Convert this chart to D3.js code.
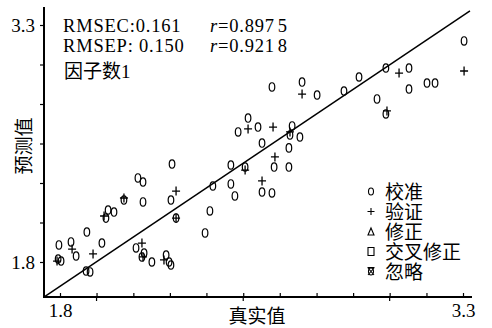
<!DOCTYPE html>
<html>
<head>
<meta charset="utf-8">
<script src="https://cdn.jsdelivr.net/npm/d3@7"></script>
<style>
  html, body { margin: 0; padding: 0; background: #fff; }
  svg { display: block; }
</style>
</head>
<body>
<div id="chart"></div>
<script>
// calibration set: 真实值 / 预测值
var calibX = [1.796, 1.793, 1.804, 1.841, 1.860, 1.900, 1.897, 1.912, 1.956, 1.971, 1.979, 2.001, 2.038, 2.090, 2.109, 2.109, 2.083, 2.113, 2.105, 2.142,
  2.195, 2.206, 2.213, 2.217, 2.213, 2.232, 2.340, 2.358, 2.369, 2.436, 2.436, 2.451, 2.463, 2.500, 2.537, 2.489, 2.552, 2.552, 2.589, 2.701,
  2.757, 2.857, 2.913, 3.013, 3.099, 3.099, 3.166, 3.196, 3.304, 2.980, 3.013, 2.664, 2.656, 2.693, 2.652, 2.597, 2.652, 2.589];
var calibY = [1.908, 1.819, 1.806, 1.927, 1.838, 1.990, 1.743, 1.737, 1.920, 2.078, 2.129, 2.116, 2.192, 2.332, 2.306, 2.180, 1.889, 1.857, 1.832, 1.800,
  1.844, 1.800, 1.781, 2.420, 2.192, 2.078, 1.984, 2.123, 2.281, 2.414, 2.294, 2.218, 2.623, 2.711, 2.654, 2.401, 2.553, 2.243, 2.908, 2.939,
  2.857, 2.882, 2.971, 3.028, 3.028, 2.895, 2.933, 2.933, 3.199, 2.832, 2.737, 2.661, 2.604, 2.591, 2.522, 2.401, 2.401, 2.237];

// validation set
var validX = [1.789, 1.845, 1.923, 1.964, 2.038, 2.105, 2.109, 2.187, 2.232, 2.232, 2.500, 2.489, 2.552, 2.701, 3.062, 3.304, 3.017, 2.593, 2.656, 2.600];
var validY = [1.806, 1.882, 1.851, 2.091, 2.205, 1.920, 1.832, 1.813, 2.249, 2.078, 2.642, 2.382, 2.313, 2.863, 2.996, 3.009, 2.756, 2.654, 2.623, 2.465];

// target line ends
var lineX = [1.74, 3.326];
var lineY = [1.578, 3.389];

// ticks and labels
var xTicks = [1.8, 1.936, 2.073, 2.209, 2.345, 2.482, 2.618, 2.755, 2.891, 3.027, 3.164, 3.3];
var yTicks = [1.8, 2.05, 2.3, 2.55, 2.8, 3.05, 3.3];
var endLabels = ["1.8", "3.3"];
var legendLabels = ["校准", "验证", "修正", "交叉修正", "忽略"];
var statNames = ["RMSEC:0.161", "RMSEP: 0.150"];
var statR = [["0.897", "5"], ["0.921", "8"]];
var factorText = "因子数1";

var width = 492, height = 328;
var frame = {left: 44, right: 472, top: 7, bottom: 297};
var serif = "'Liberation Serif', 'Times New Roman', 'Noto Sans CJK SC', serif";

var svg = d3.select("#chart")
  .append("svg")
  .attr("width", width)
  .attr("height", height)
  .style("background", "#fff");

var x = d3.scaleLinear().domain([1.8, 3.3]).range([60, 463]);
var y = d3.scaleLinear().domain([1.8, 3.3]).range([262, 25]);

// Y axis
var yAxis = svg.append("g")
  .attr("transform", "translate(" + frame.left + ",0)")
  .call(d3.axisLeft(y).tickValues(yTicks).tickSize(4).tickPadding(5)
    .tickFormat(function(d, i) { return i === 0 ? endLabels[0] : (i === yTicks.length - 1 ? endLabels[1] : ""); }));
yAxis.select(".domain").remove();
yAxis.selectAll("line").attr("stroke", "#000").attr("stroke-width", 1.2);
yAxis.selectAll("text").attr("font-family", serif).attr("font-size", 19).attr("fill", "#000");

// X axis
var xAxis = svg.append("g")
  .attr("transform", "translate(0," + frame.bottom + ")")
  .call(d3.axisBottom(x).tickValues(xTicks).tickSize(-4).tickPadding(7)
    .tickFormat(function(d, i) { return i === 0 ? endLabels[0] : (i === xTicks.length - 1 ? endLabels[1] : ""); }));
xAxis.select(".domain").remove();
xAxis.selectAll("line").attr("stroke", "#000").attr("stroke-width", 1.2);
xAxis.selectAll("text").attr("font-family", serif).attr("font-size", 19).attr("fill", "#000");

// a few ticks hang below the axis
xAxis.selectAll(".down")
  .data([xTicks[1], xTicks[5], xTicks[9]])
  .enter()
  .append("line")
  .attr("x1", function(d) { return x(d); })
  .attr("x2", function(d) { return x(d); })
  .attr("y1", 0)
  .attr("y2", 4)
  .attr("stroke", "#000")
  .attr("stroke-width", 1.2);

// frame lines
svg.append("line")
  .attr("x1", frame.left).attr("x2", frame.left)
  .attr("y1", frame.top).attr("y2", frame.bottom + 1)
  .attr("stroke", "#000").attr("stroke-width", 2);
svg.append("line")
  .attr("x1", frame.left - 1).attr("x2", frame.right)
  .attr("y1", frame.bottom).attr("y2", frame.bottom)
  .attr("stroke", "#000").attr("stroke-width", 2.2);

// target line
svg.append("path")
  .datum(d3.zip(lineX, lineY))
  .attr("d", d3.line().x(function(d) { return x(d[0]); }).y(function(d) { return y(d[1]); }))
  .attr("fill", "none")
  .attr("stroke", "#000")
  .attr("stroke-width", 1.5);

// calibration points
svg.selectAll(".calib")
  .data(d3.zip(calibX, calibY))
  .enter()
  .append("ellipse")
  .attr("cx", function(d) { return x(d[0]); })
  .attr("cy", function(d) { return y(d[1]); })
  .attr("rx", 2.8)
  .attr("ry", 4.2)
  .attr("fill", "none")
  .attr("stroke", "#000")
  .attr("stroke-width", 1.2);

// validation points
svg.selectAll(".valid")
  .data(d3.zip(validX, validY))
  .enter()
  .append("path")
  .attr("transform", function(d) { return "translate(" + x(d[0]) + "," + y(d[1]) + ")"; })
  .attr("d", "M-4,0H4M0,-4.5V4.5")
  .attr("fill", "none")
  .attr("stroke", "#000")
  .attr("stroke-width", 1.3);

// statistics text
var stats = svg.append("g").attr("font-family", serif).attr("font-size", 18.5).attr("fill", "#000");
statNames.forEach(function(s, i) {
  var base = 31.5 + i * 20.5;
  stats.append("text").attr("x", 63).attr("y", base).attr("letter-spacing", 0.8).text(s);
  var t = stats.append("text").attr("x", 210).attr("y", base).attr("letter-spacing", 0.8);
  t.append("tspan").attr("font-style", "italic").text("r");
  t.append("tspan").text("=" + statR[i][0]);
  t.append("tspan").attr("dx", 3).text(statR[i][1]);
});
stats.append("text")
  .attr("x", 64).attr("y", 77.5)
  .attr("font-size", 19)
  .text(factorText);

// axis titles
svg.append("text")
  .attr("x", 257).attr("y", 323)
  .attr("text-anchor", "middle")
  .attr("font-family", serif).attr("font-size", 19)
  .text("真实值");
svg.append("text")
  .attr("transform", "translate(31,146) rotate(-90)")
  .attr("text-anchor", "middle")
  .attr("font-family", serif).attr("font-size", 19)
  .text("预测值");

// legend
var legend = svg.append("g").attr("transform", "translate(371,191.5)");
var rows = legend.selectAll("g")
  .data(legendLabels)
  .enter()
  .append("g")
  .attr("transform", function(d, i) { return "translate(0," + (i * 20) + ")"; });
rows.append("text")
  .attr("x", 14)
  .attr("y", 7)
  .attr("font-family", serif)
  .attr("font-size", 19)
  .text(function(d) { return d; });
rows.append("path")
  .attr("d", function(d, i) {
    if (i === 0) return "M0,-3.5A2.5,3.5 0 1,1 0,3.5A2.5,3.5 0 1,1 0,-3.5Z";
    if (i === 1) return "M-3.5,0H3.5M0,-3.5V3.5";
    if (i === 2) return "M0,-3.5L3,3.5H-3Z";
    if (i === 3) return "M-3,-4H3V4H-3Z";
    return "M0,-3.5A2.5,3.5 0 1,1 0,3.5A2.5,3.5 0 1,1 0,-3.5ZM-3,-3.5L3,3.5M3,-3.5L-3,3.5M-3.5,-4H3.5";
  })
  .attr("fill", "none")
  .attr("stroke", "#000")
  .attr("stroke-width", 1.1);
</script>
</body>
</html>
